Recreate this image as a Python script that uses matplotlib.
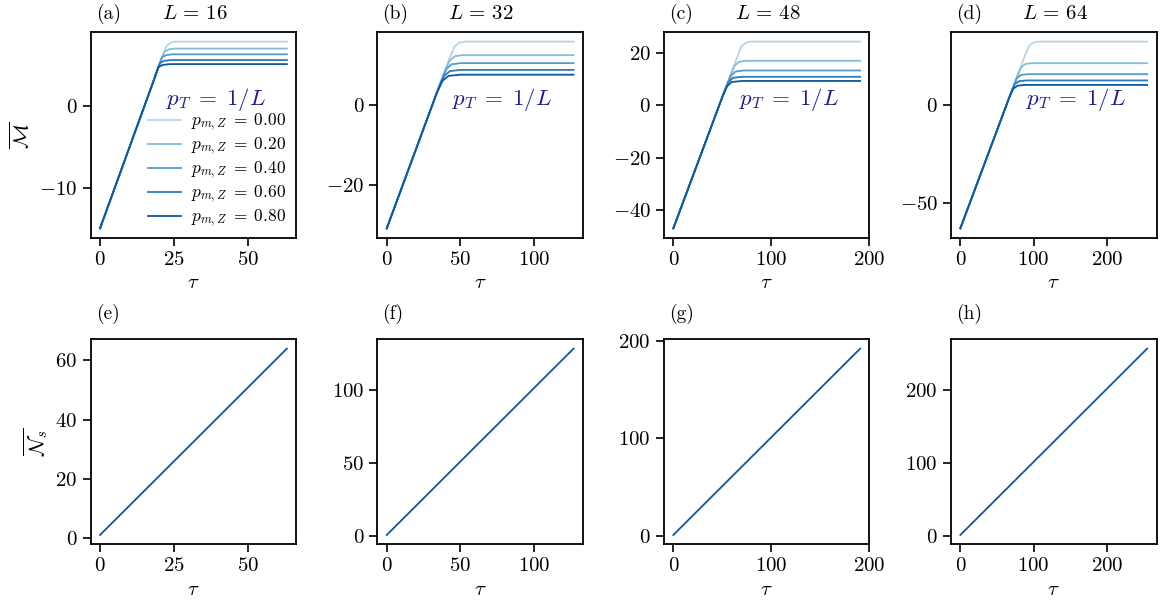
import matplotlib
matplotlib.use('Agg')
import matplotlib.pyplot as plt
import numpy as np

plt.rcParams['font.family'] = 'serif'
plt.rcParams['font.serif'] = ['cmr10']
plt.rcParams['mathtext.fontset'] = 'cm'
plt.rcParams['axes.formatter.use_mathtext'] = True
plt.rcParams['axes.unicode_minus'] = True
plt.rcParams['axes.linewidth'] = 1.3

# system sizes and measurement probabilities
sizes = [16, 32, 48, 64]
p_mz = [0.00, 0.20, 0.40, 0.60, 0.80]
panel_top = ['(a)', '(b)', '(c)', '(d)']
panel_bot = ['(e)', '(f)', '(g)', '(h)']

# M(tau) curves, knots: common linear rise then plateau
tau_M = {
    16: [[0, 21.0, 22.5, 24.0, 25.5, 63],
         [0, 20.2, 21.7, 23.2, 25.0, 63],
         [0, 19.3, 20.8, 22.3, 24.5, 63],
         [0, 18.6, 20.1, 21.6, 24.0, 63],
         [0, 18.1, 19.6, 21.1, 23.5, 63]],
    32: [[0, 43.0, 46.0, 49.0, 53.0, 127],
         [0, 39.0, 42.5, 46.0, 51.0, 127],
         [0, 37.0, 40.5, 44.0, 50.0, 127],
         [0, 35.5, 39.0, 43.0, 50.0, 127],
         [0, 34.0, 38.0, 42.0, 50.0, 127]],
    48: [[0, 65.0, 69.5, 74.0, 79.0, 191],
         [0, 58.0, 62.5, 67.0, 74.0, 191],
         [0, 54.5, 59.0, 63.5, 72.0, 191],
         [0, 52.0, 56.5, 61.0, 70.0, 191],
         [0, 50.5, 55.0, 59.5, 70.0, 191]],
    64: [[0, 88.0, 94.0, 100.0, 106.0, 255],
         [0, 77.0, 83.0, 89.0, 97.0, 255],
         [0, 71.0, 77.0, 83.0, 93.0, 255],
         [0, 68.0, 74.0, 80.0, 90.0, 255],
         [0, 66.0, 72.0, 78.0, 88.0, 255]],
}
val_M = {
    16: [[-15, 6.0, 7.35, 7.75, 7.85, 7.85],
         [-15, 5.2, 6.6, 6.9, 7.0, 7.0],
         [-15, 4.3, 5.9, 6.2, 6.3, 6.3],
         [-15, 3.6, 5.2, 5.5, 5.6, 5.6],
         [-15, 3.1, 4.7, 5.0, 5.1, 5.1]],
    32: [[-31, 12.0, 14.6, 15.6, 15.9, 15.9],
         [-31, 8.0, 11.0, 12.2, 12.5, 12.5],
         [-31, 6.0, 9.0, 10.2, 10.5, 10.5],
         [-31, 4.5, 7.3, 8.5, 8.8, 8.8],
         [-31, 3.0, 6.1, 7.3, 7.6, 7.6]],
    48: [[-47, 18.0, 22.3, 23.8, 24.2, 24.2],
         [-47, 11.0, 14.9, 16.5, 16.9, 16.9],
         [-47, 7.5, 11.2, 12.8, 13.2, 13.2],
         [-47, 5.0, 8.8, 10.4, 10.8, 10.8],
         [-47, 3.5, 7.2, 8.8, 9.2, 9.2]],
    64: [[-63, 25.0, 30.3, 31.9, 32.3, 32.3],
         [-63, 14.0, 19.3, 20.9, 21.3, 21.3],
         [-63, 8.0, 13.7, 15.3, 15.7, 15.7],
         [-63, 5.0, 10.5, 12.1, 12.5, 12.5],
         [-63, 3.0, 8.2, 9.8, 10.2, 10.2]],
}

# N_s(tau): straight line, end points
tau_N = {16: [0, 63], 32: [0, 127], 48: [0, 191], 64: [0, 255]}
val_N = {16: [1, 64], 32: [1, 128], 48: [1, 192], 64: [1, 256]}

xt = {16: [0, 25, 50], 32: [0, 50, 100], 48: [0, 100, 200], 64: [0, 100, 200]}
yt_M = {16: [-10, 0], 32: [-20, 0], 48: [-40, -20, 0, 20], 64: [-50, 0]}
yt_N = {16: [0, 20, 40, 60], 32: [0, 50, 100], 48: [0, 100, 200], 64: [0, 100, 200]}

colors = plt.cm.Blues(np.linspace(0.3, 0.85, 5))
line_col = plt.cm.Blues(0.85)
text_col = '#1c1c96'

W, H = 1163, 611
fig = plt.figure(figsize=(W / 100, H / 100), dpi=100)
lefts = [90.7, 377.4, 664.0, 951.0]
aw, ah = 205.5, 205.4

for i, L in enumerate(sizes):
    ax = fig.add_axes([lefts[i] / W, 1 - 237.7 / H, aw / W, ah / H])
    for j, p in enumerate(p_mz):
        ax.plot(tau_M[L][j], val_M[L][j], color=colors[j], lw=1.3,
                label=r'$p_{m,Z}\;=\;%.2f$' % p)
    ax.set_xticks(xt[L])
    ax.set_yticks(yt_M[L])
    ax.set_xlabel(r'$\tau$', fontsize=15)
    ax.tick_params(labelsize=15, length=6, width=1.2)
    ax.text(0.365, 0.675, r'$p_T\;=\;1/L$', transform=ax.transAxes,
            fontsize=16.5, color=text_col, va='center', ha='left')
    ax.text(0.025, 1.09, panel_top[i], transform=ax.transAxes, fontsize=14,
            va='center', ha='left')
    ax.text(0.345, 1.09, r'$L\,=\,%d$' % L, transform=ax.transAxes,
            fontsize=15, va='center', ha='left')
    if i == 0:
        ax.set_ylabel(r'$\overline{\mathcal{M}}$', fontsize=15)
        ax.legend(frameon=False, fontsize=12.5, loc='upper left',
                  bbox_to_anchor=(0.22, 0.672), handlelength=1.9,
                  handletextpad=0.6, labelspacing=0.15, borderpad=0.2)

    bx = fig.add_axes([lefts[i] / W, 1 - 544.3 / H, aw / W, 205.0 / H])
    bx.plot(tau_N[L], val_N[L], color=line_col, lw=1.3)
    bx.set_xticks(xt[L])
    bx.set_yticks(yt_N[L])
    bx.set_xlabel(r'$\tau$', fontsize=15)
    bx.tick_params(labelsize=15, length=6, width=1.2)
    bx.text(0.025, 1.125, panel_bot[i], transform=bx.transAxes, fontsize=14,
            va='center', ha='left')
    if i == 0:
        bx.set_ylabel(r'$\overline{\mathcal{N}_s}$', fontsize=15)

fig.savefig('out.png', dpi=100)
